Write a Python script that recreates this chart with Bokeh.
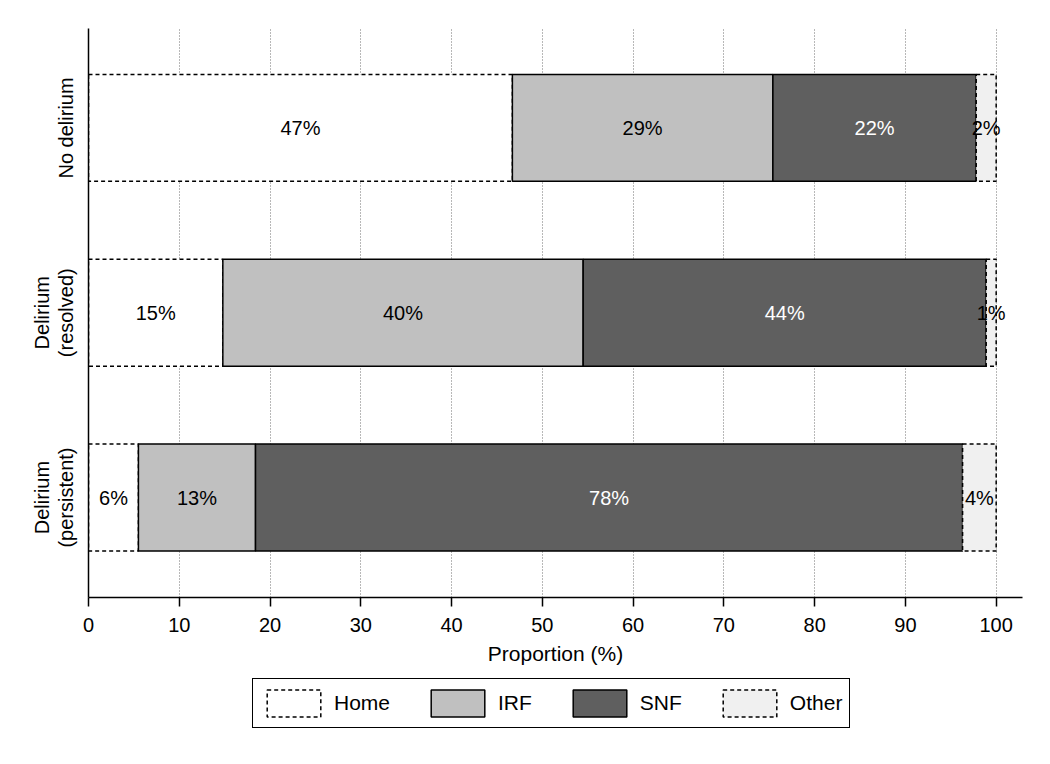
import math
import numpy as np
from bokeh.plotting import figure
from bokeh.layouts import column
from bokeh.models import Range1d, FixedTicker, Legend, LegendItem, ColumnDataSource, LinearAxis
from bokeh.core.properties import value
from bokeh.embed import file_html
from bokeh.resources import INLINE

# ---- data ----
groups = ["No delirium", "Delirium\n(resolved)", "Delirium\n(persistent)"]
group_pos = [3, 2, 1]
categories = ["Home", "IRF", "SNF", "Other"]
home = [46.7, 14.8, 5.5]
irf = [28.7, 39.7, 12.9]
snf = [22.4, 44.4, 77.9]
other = [2.2, 1.1, 3.7]
x_ticks = [0, 10, 20, 30, 40, 50, 60, 70, 80, 90, 100]

FONT = "Liberation Sans"
W = 1042

p = figure(frame_width=934, frame_height=569, output_backend="svg", toolbar_location=None,
           x_range=Range1d(0, 102.9), y_range=Range1d(0.459, 3.538),
           min_border_left=88, min_border_right=20, min_border_top=28, min_border_bottom=80)
p.outline_line_color = None
p.background_fill_color = "white"
p.border_fill_color = "white"

# grid
p.ygrid.visible = False
p.xgrid.ticker = FixedTicker(ticks=x_ticks[1:])
p.xgrid.grid_line_color = "#707070"
p.xgrid.grid_line_dash = "1 2"
p.xgrid.grid_line_width = 1

# x axis
p.xaxis.ticker = FixedTicker(ticks=x_ticks)
p.xaxis.axis_label = "Proportion (%)"
p.xaxis.axis_label_text_font = FONT
p.xaxis.axis_label_text_font_size = "21px"
p.xaxis.axis_label_text_font_style = "normal"
p.xaxis.axis_label_text_color = "black"
p.xaxis.axis_label_standoff = 7
p.xaxis.major_label_text_font = FONT
p.xaxis.major_label_text_font_size = "20px"
p.xaxis.major_label_text_color = "black"
p.xaxis.major_label_standoff = 11
p.xaxis.major_tick_out = 9
p.xaxis.major_tick_in = 0
p.xaxis.minor_tick_line_color = None
p.xaxis.axis_line_width = 1.5
p.xaxis.major_tick_line_width = 1.5
p.xaxis.axis_line_color = "black"
p.xaxis.major_tick_line_color = "black"

# y axis: inner axis carries the last line of each category name,
# an outer axis carries the first line of two-line names
split = [g.split("\n") for g in groups]
inner = {pos: parts[-1] for pos, parts in zip(group_pos, split)}
outer = {pos: (parts[0] if len(parts) > 1 else "") for pos, parts in zip(group_pos, split)}

yax = p.yaxis[0]
yax.ticker = FixedTicker(ticks=group_pos)
yax.major_label_overrides = inner
yax.major_label_orientation = "parallel"
yax.major_label_text_font = FONT
yax.major_label_text_font_size = "20px"
yax.major_label_text_color = "black"
yax.major_label_standoff = 11
yax.major_tick_line_color = None
yax.major_tick_out = 0
yax.major_tick_in = 0
yax.minor_tick_line_color = None
yax.axis_line_width = 1.5
yax.axis_line_color = "black"

yax2 = LinearAxis(ticker=FixedTicker(ticks=group_pos), major_label_overrides=outer,
                  major_label_orientation="parallel", major_label_text_font=FONT,
                  major_label_text_font_size="20px", major_label_text_color="black",
                  major_label_standoff=-1, major_tick_line_color=None, major_tick_out=0,
                  major_tick_in=0, minor_tick_line_color=None, axis_line_color=None)
p.add_layout(yax2, "left")

# stacked bars
series = [home, irf, snf, other]
fills = ["white", "#c0c0c0", "#5f5f5f", "#f0f0f0"]
dashes = ["4 3", "solid", "solid", "4 3"]
text_colors = ["black", "black", "white", "black"]
bar_h = 0.578
cum = np.zeros(len(group_pos))
sources = []
for name, vals, fc, dash in zip(categories, series, fills, dashes):
    vals = np.array(vals, dtype=float)
    src = ColumnDataSource(dict(y=group_pos, left=cum.copy(), right=cum + vals))
    sources.append(src)
    p.hbar(y="y", left="left", right="right", height=bar_h, source=src,
           fill_color=fc, line_color="black", line_width=1.5, line_dash=dash)
    cum = cum + vals

# value labels
cum = np.zeros(len(group_pos))
for vals, tc in zip(series, text_colors):
    vals = np.array(vals, dtype=float)
    xs = cum + vals / 2
    labels = [f"{int(v + 0.5)}%" for v in vals]
    p.text(x=xs, y=group_pos, text=labels, text_align="center", text_baseline="middle",
           text_font=value(FONT), text_font_size="20px", text_color=tc)
    cum = cum + vals

# legend in a strip below the chart (hidden renderers only supply the swatch styles)
p2 = figure(width=W, height=70, output_backend="svg", toolbar_location=None,
            x_range=Range1d(0, 1), y_range=Range1d(0, 1),
            min_border_left=0, min_border_right=0, min_border_top=0, min_border_bottom=0)
p2.axis.visible = False
p2.grid.visible = False
p2.outline_line_color = None
p2.background_fill_color = "white"
p2.border_fill_color = "white"
items = []
for name, src, fc, dash in zip(categories, sources, fills, dashes):
    r = p2.hbar(y="y", left="left", right="right", height=bar_h, source=src,
                fill_color=fc, line_color="black", line_width=1.5, line_dash=dash)
    r.visible = False
    items.append(LegendItem(label=name, renderers=[r]))

legend = Legend(items=items, orientation="horizontal", location=(164, 19))
legend.label_text_font = FONT
legend.label_text_font_size = "21px"
legend.label_text_color = "black"
legend.glyph_width = 67
legend.glyph_height = 34
legend.label_standoff = 7
legend.spacing = 34
legend.padding = 7
legend.border_line_color = "black"
legend.border_line_alpha = 1.0
legend.border_line_width = 1.5
legend.background_fill_alpha = 1.0
legend.margin = 0
p2.add_layout(legend, "center")

layout = column(p, p2, spacing=0)
open("out.html", "w").write(file_html(layout, INLINE))
